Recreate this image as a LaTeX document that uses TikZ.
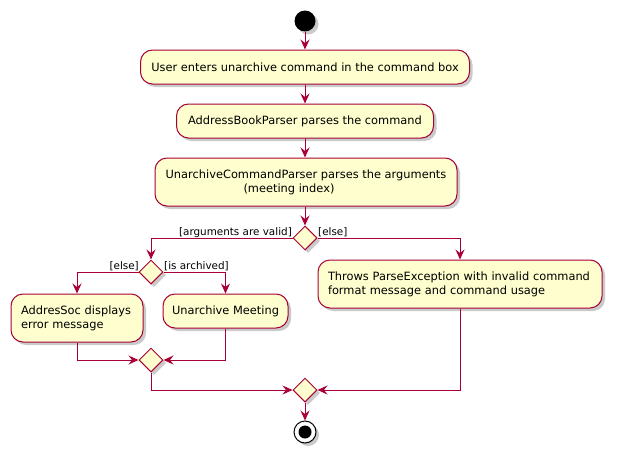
\documentclass[tikz,border=0pt]{standalone}
\usepackage{fontspec}
\setmainfont{DejaVu Sans}
\usetikzlibrary{shapes.geometric,arrows.meta,shadows}
\definecolor{umlred}{HTML}{A80036}
\definecolor{umlfill}{HTML}{FEFECE}
\tikzset{
  shad/.style={drop shadow={shadow xshift=3pt,shadow yshift=-3pt,opacity=0.35,fill=black!60}},
  act/.style={draw=umlred,fill=umlfill,rounded corners=12pt,line width=1pt,shad,inner sep=0pt,font=\fontsize{11.4}{14}\selectfont},
  dia/.style={draw=umlred,fill=umlfill,diamond,aspect=1,minimum width=24pt,minimum height=24pt,inner sep=0pt,line width=1pt,shad},
  arr/.style={draw=umlred,line width=1pt,-{Stealth[length=10pt,width=9pt,inset=3.5pt]}},
  lab/.style={font=\fontsize{10.4}{12}\selectfont,inner sep=0pt}
}
\begin{document}
\begin{tikzpicture}[x=1pt,y=-1pt]
\useasboundingbox (0,0) rectangle (617,460);
\node[circle,fill=black,minimum size=21pt,inner sep=0pt,shad] (start) at (305,21) {};
\node[act,minimum width=329pt,minimum height=34pt] (b1) at (305,67) {User enters unarchive command in the command box};
\node[act,minimum width=257pt,minimum height=34pt] (b2) at (305,121) {AddressBookParser parses the command};
\node[act,minimum width=302pt,minimum height=48pt,align=center] (b3) at (306,182) {UnarchiveCommandParser parses the arguments\\(meeting index)\hspace*{34pt}};
\node[dia] (d1) at (305,238) {};
\node[dia] (d2) at (151,272) {};
\node[act,text width=112pt,minimum height=48pt,align=left,inner xsep=10pt] (b4) at (77,318) {AddresSoc displays\\error message};
\node[act,minimum width=125pt,minimum height=34pt] (b5) at (225.5,311) {Unarchive Meeting};
\node[act,text width=264pt,minimum height=48pt,align=left,inner xsep=10pt] (b6) at (460,284) {Throws ParseException with invalid command\\format message and command usage};
\node[dia] (d3) at (151,360) {};
\node[dia] (d4) at (305,390) {};
\node[circle,draw=black,fill=white,line width=1pt,minimum size=22pt,inner sep=0pt,shad] (end) at (305,432) {};
\node[circle,fill=black,minimum size=13pt,inner sep=0pt] (endin) at (end) {};
\draw[arr] (start) -- (b1);
\draw[arr] (b1) -- (b2);
\draw[arr] (b2) -- (b1.south |- b3.north);
\draw[arr] (b1.south |- b3.south) -- (d1.north);
\draw[arr] (d1.west) -| (d2.north);
\draw[arr] (d1.east) -| (b6.north);
\draw[arr] (d2.west) -| (b4.north);
\draw[arr] (d2.east) -| (b5.north);
\draw[arr] (b4.south) |- (d3.west);
\draw[arr] (b5.south) |- (d3.east);
\draw[arr] (d3.south) |- (d4.west);
\draw[arr] (b6.south) |- (d4.east);
\draw[arr] (d4.south) -- (end.north);
\node[lab,anchor=base east] (l1) at (292,235) {[arguments are valid]};
\node[lab,anchor=base west] (l2) at (318,235) {[else]};
\node[lab,anchor=base east] (l3) at (139,269) {[else]};
\node[lab,anchor=base west] (l4) at (164,269) {[is archived]};
\end{tikzpicture}
\end{document}
